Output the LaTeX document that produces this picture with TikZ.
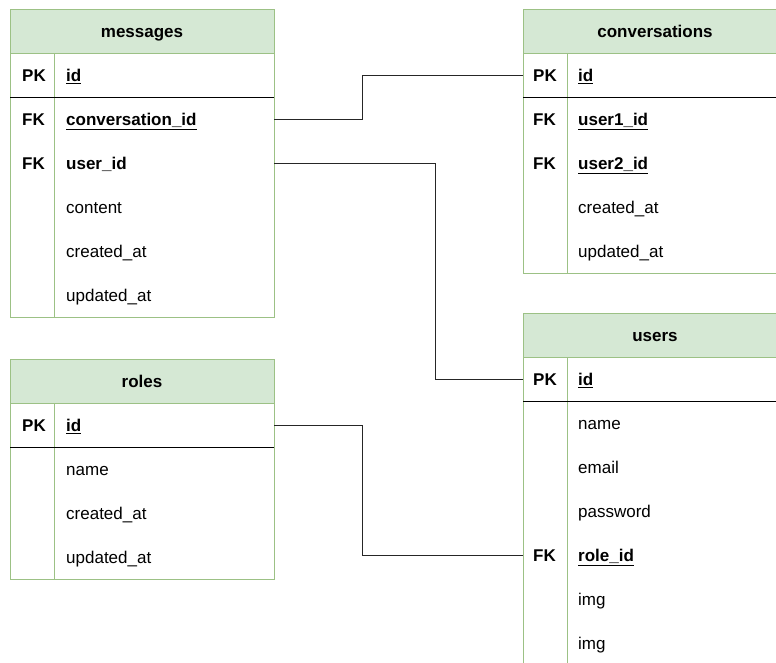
\documentclass[tikz,border=0pt]{standalone}
\usepackage{fontspec}
\setmainfont{Liberation Sans}
\usetikzlibrary{positioning}
\definecolor{erline}{HTML}{9CC185}
\definecolor{erhead}{HTML}{D5E8D4}
\newcommand\erfont{\fontsize{17}{20}\selectfont}

\tikzset{
  txt/.style={text height=13.5pt, text depth=0.5pt, inner sep=0pt},
  hdr/.style={txt, draw=erline, fill=erhead, font=\erfont\bfseries, minimum width=264pt, minimum height=44pt},
  body/.style={draw=erline, fill=white},
  key/.style={txt, font=\erfont\bfseries, anchor=west},
  fld/.style={txt, font=\erfont, anchor=west},
  link/.style={draw=black!85, line width=1pt}
}

\begin{document}
\begin{tikzpicture}[x=1pt, y=-1pt]
\useasboundingbox[fill=white] (0,0) rectangle (776,662);

% messages
\node[hdr] (messages) at (142,31) {messages};
\filldraw[body] (messages.south west) rectangle ++(264,264);
\draw[erline] (54,53) -- (54,317);
\draw[black] (10,97) -- (274,97);
\node[key] (m-pk) at (22,75) {PK};
\node[fld] (m-id) at (66,75) {\bfseries\underline{id}};
\node[key] (m-fk1) at (22,119) {FK};
\node[fld] (m-cid) at (66,119) {\bfseries\underline{conversation\_id}};
\node[key] (m-fk2) at (22,163) {FK};
\node[fld] (m-uid) at (66,163) {\bfseries user\_id};
\foreach \f [count=\i] in {content,created\_at,updated\_at}
  \node[fld] (m-f\i) at (66,163+44*\i) {\f};

% conversations
\node[hdr] (convs) at (655,31) {conversations};
\filldraw[body] (convs.south west) rectangle ++(264,220);
\draw[erline] (567,53) -- (567,273);
\draw[black] (523,97) -- (787,97);
\node[key] (c-pk) at (533,75) {PK};
\node[fld] (c-id) at (578,75) {\bfseries\underline{id}};
\node[key] (c-fk1) at (533,119) {FK};
\node[fld] (c-u1) at (578,119) {\bfseries\underline{user1\_id}};
\node[key] (c-fk2) at (533,163) {FK};
\node[fld] (c-u2) at (578,163) {\bfseries\underline{user2\_id}};
\foreach \f [count=\i] in {created\_at,updated\_at}
  \node[fld] (c-f\i) at (578,163+44*\i) {\f};

% users
\node[hdr] (users) at (655,335) {users};
\filldraw[body] (users.south west) rectangle ++(264,320);
\draw[erline] (567,357) -- (567,670);
\draw[black] (523,401) -- (787,401);
\node[key] (u-pk) at (533,379) {PK};
\node[fld] (u-id) at (578,379) {\bfseries\underline{id}};
\foreach \f [count=\i] in {name,email,password}
  \node[fld] (u-f\i) at (578,379+44*\i) {\f};
\node[key] (u-fk) at (533,555) {FK};
\node[fld] (u-rid) at (578,555) {\bfseries\underline{role\_id}};
\node[fld] (u-img1) at (578,599) {img};
\node[fld] (u-img2) at (578,643) {img};

% roles
\node[hdr] (roles) at (142,381) {roles};
\filldraw[body] (roles.south west) rectangle ++(264,176);
\draw[erline] (54,403) -- (54,579);
\draw[black] (10,447) -- (274,447);
\node[key] (r-pk) at (22,425) {PK};
\node[fld] (r-id) at (66,425) {\bfseries\underline{id}};
\foreach \f [count=\i] in {name,created\_at,updated\_at}
  \node[fld] (r-f\i) at (66,425+44*\i) {\f};

% relations
\draw[link] (messages.east |- m-cid) -- ++(88,0) |- (convs.west |- c-pk);
\draw[link] (messages.east |- m-uid) -- ++(161,0) |- (users.west |- u-pk);
\draw[link] (roles.east |- r-id) -- ++(88,0) |- (users.west |- u-rid);

\end{tikzpicture}
\end{document}
